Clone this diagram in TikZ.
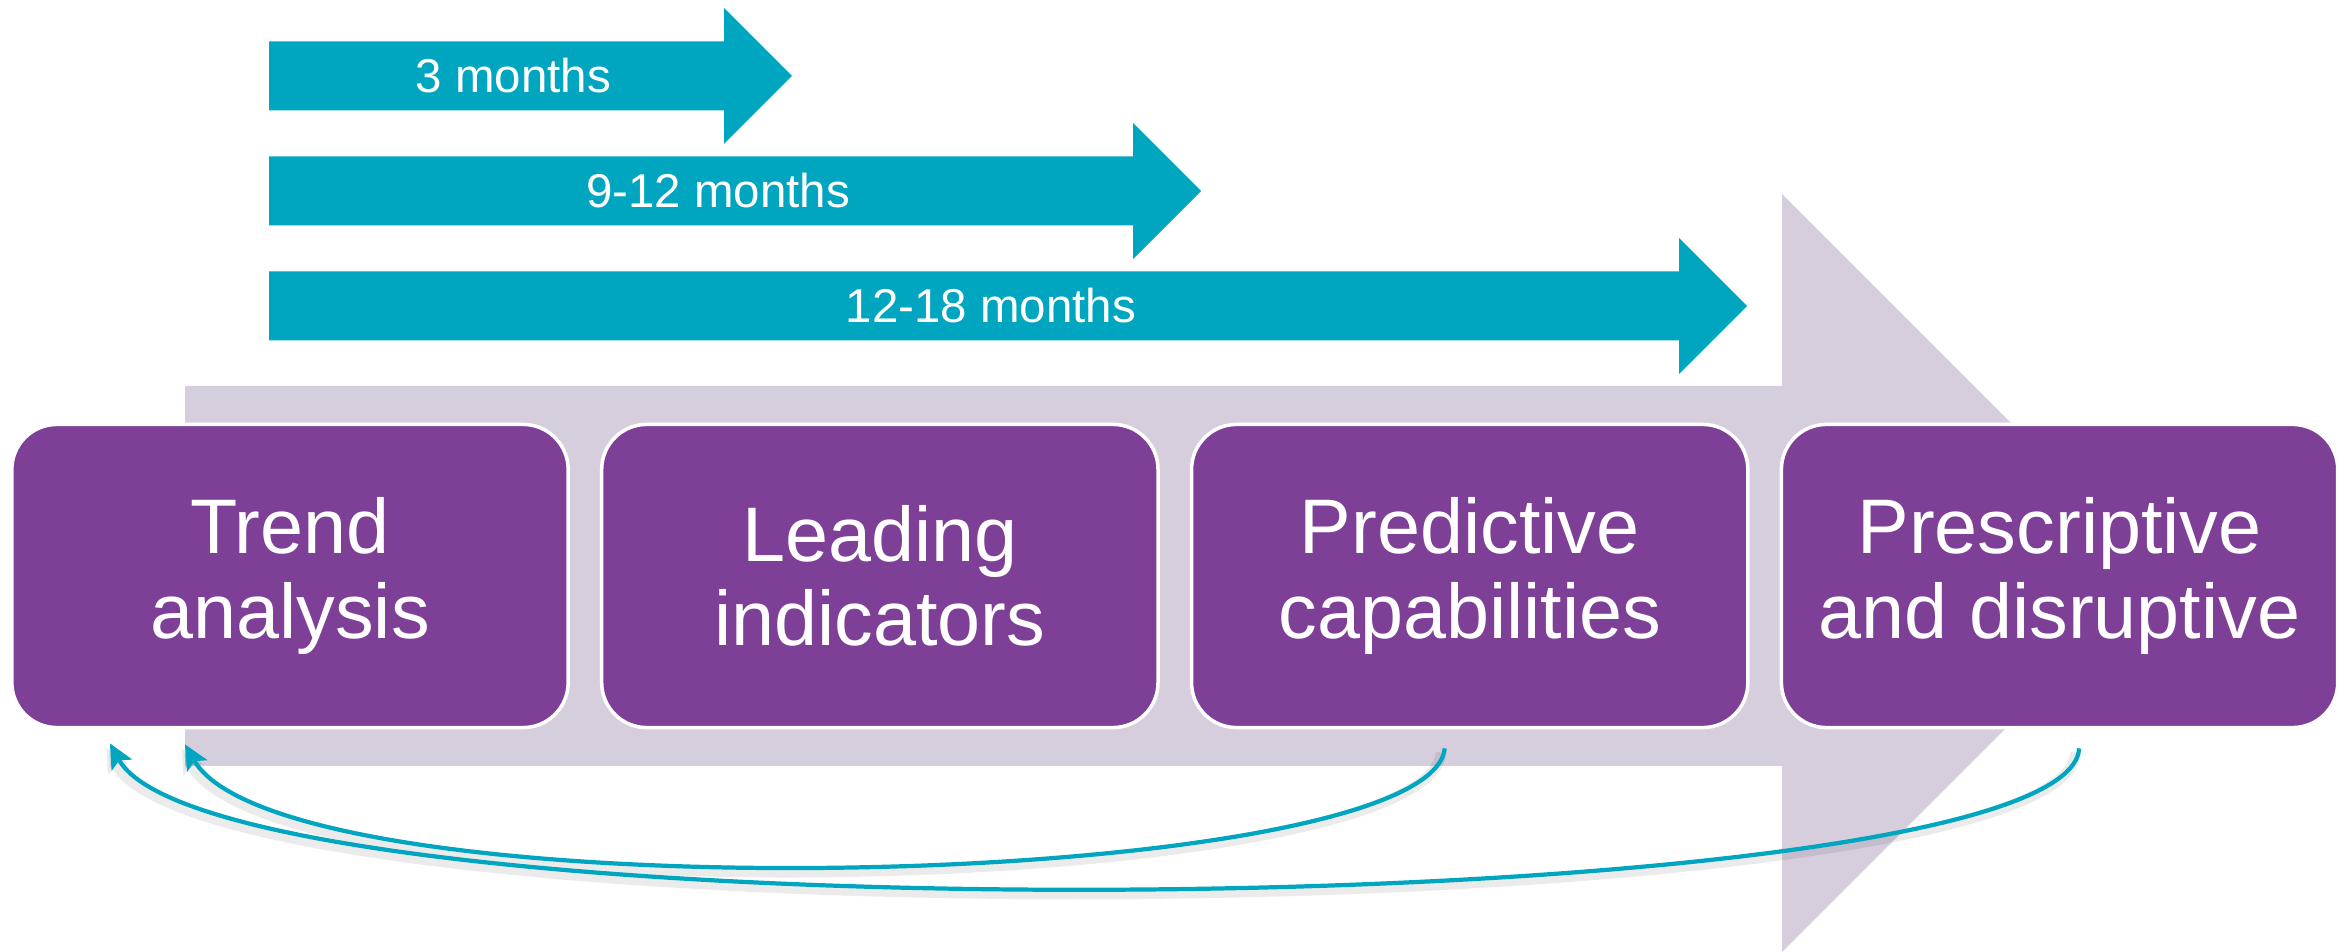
\documentclass[tikz,border=0pt]{standalone}
\usepackage{fontspec}
\setmainfont{Liberation Sans}
\usetikzlibrary{positioning,arrows.meta}

\definecolor{stagepurple}{RGB}{126,63,150}
\definecolor{spanteal}{RGB}{0,165,191}
\definecolor{pathgrey}{RGB}{214,206,221}

\newcommand*{\spanstart}{269}
\newcommand*{\spanhalf}{34.5}
\newcommand*{\spanhead}{68}

\begin{document}
\begin{tikzpicture}
[
	x=0.01cm, y=-0.01cm,
	stage/.style={rectangle,rounded corners=0.45cm,draw=white,line width=1pt,fill=stagepurple,text=white,minimum width=5.56cm,minimum height=3.03cm,align=center,font=\fontsize{22}{24}\selectfont},
	spanlabel/.style={text=white,font=\fontsize{13.5}{16}\selectfont},
	loopback/.style={draw=spanteal,line width=1.2pt,-{Stealth[length=7pt,width=6.5pt,inset=1.5pt]},preaction={draw=black,opacity=0.08,line width=3pt,transform canvas={xshift=-1pt,yshift=-1.2pt}}}
]

	\useasboundingbox (0,0) rectangle (2344,952);
	\clip (0,0) rectangle (2344,952);

	% big background arrow
	\fill[pathgrey] (185,386) -- (1782,386) -- (1782,194) -- (2161,573) -- (1782,952) -- (1782,766) -- (185,766) -- cycle;

	% time spans
	\foreach \yc/\xe/\lbl [count=\i] in {76/724/3 months, 191/1133/9-12 months, 306/1679/12-18 months} {
		\fill[spanteal] (\spanstart,\yc-\spanhalf) -- (\xe,\yc-\spanhalf) -- (\xe,\yc-\spanhead) -- (\xe+\spanhead,\yc) -- (\xe,\yc+\spanhead) -- (\xe,\yc+\spanhalf) -- (\spanstart,\yc+\spanhalf) -- cycle;
		\node[spanlabel] (span\i) at ({(\spanstart+\xe)/2+17},\yc) {\lbl};
	}

	% stages
	\node[stage] (trend) at (290,576) {Trend\\analysis};
	\node[stage,right=0.3cm of trend] (leading) {Leading\\indicators};
	\node[stage,right=0.3cm of leading] (predictive) {Predictive\\capabilities};
	\node[stage,right=0.3cm of predictive] (prescriptive) {Prescriptive\\and disruptive};

	% feedback loops
	\draw[loopback] ([xshift=-0.25cm,yshift=-0.19cm]predictive.south) .. controls +(-13,143) and +(100,175) .. ([xshift=-1.05cm,yshift=-0.15cm]trend.south);
	\draw[loopback] ([xshift=0.195cm,yshift=-0.19cm]prescriptive.south) .. controls +(-8,178) and +(110,200) .. ([xshift=-1.8cm,yshift=-0.14cm]trend.south);

\end{tikzpicture}
\end{document}
